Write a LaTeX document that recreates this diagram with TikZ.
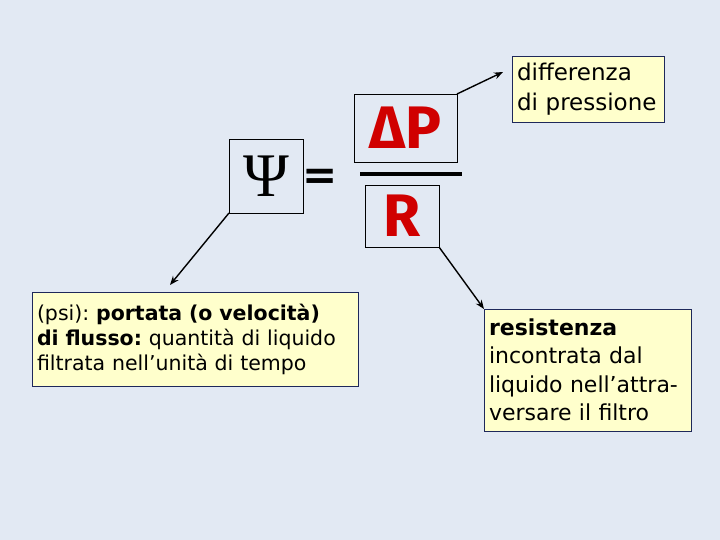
\documentclass[tikz,border=0pt]{standalone}
\usepackage{fontspec}
\setmainfont{DejaVu Sans}
\newfontfamily\eqfont{Fira Sans}
\newfontfamily\psifont{Liberation Serif}
\usetikzlibrary{arrows.meta}
\frenchspacing
\definecolor{bg}{RGB}{226,233,243}
\definecolor{note}{RGB}{255,255,204}
\definecolor{navy}{RGB}{30,40,90}
\definecolor{eqred}{RGB}{208,0,0}
\tikzset{
  notebox/.style={draw=navy, line width=0.9pt, fill=note, inner xsep=5pt, inner ysep=3pt, outer sep=0pt, align=left, anchor=north west},
  eqbox/.style={draw=black, line width=0.8pt, inner sep=0pt, outer sep=0pt},
  conn/.style={line width=1.4pt, -{Stealth[length=9pt,width=7pt]}},
}
\begin{document}
\begin{tikzpicture}[x=1pt,y=-1pt]
\fill[bg] (0,0) rectangle (720,540);
\useasboundingbox (0,0) rectangle (720,540);

% equation
\node[eqbox, minimum width=74pt, minimum height=74pt] (psi) at (266,176) {\fontsize{62}{62}\selectfont\psifont Ψ};
\node (eq) at (320.5,179) {\fontsize{42}{42}\selectfont\bfseries =};
\node[eqbox, minimum width=103pt, minimum height=68pt] (dp) at (405.5,128) {\fontsize{60}{60}\selectfont\eqfont\bfseries\color{eqred}ΔP};
\coordinate (fl) at (360,174);
\coordinate (fr) at (462,174);
\draw[line width=4pt] (fl) -- (fr);
\node[eqbox, minimum width=74pt, minimum height=62pt] (r) at (402,216) {\fontsize{60}{60}\selectfont\eqfont\bfseries\color{eqred}R};

% notes
\node[notebox, minimum width=326pt, minimum height=94pt, text width=316pt, font=\fontsize{20.5}{25}\selectfont] (flow) at (32,292)
  {\mbox{(psi): \textbf{portata (o velocità)}}\\
   \mbox{\textbf{di flusso:} quantità di liquido}\\
   \mbox{filtrata nell’unità di tempo}};
\node[notebox, minimum width=152pt, minimum height=66pt, text width=142pt, inner ysep=4pt, font=\fontsize{23}{30}\selectfont] (diff) at (512,56)
  {\mbox{differenza}\\ \mbox{di pressione}};
\node[notebox, minimum width=207pt, minimum height=122pt, text width=197pt, inner ysep=9pt, font=\fontsize{22}{28.5}\selectfont] (res) at (484,309)
  {\mbox{\textbf{resistenza}}\\ \mbox{incontrata dal}\\ \mbox{liquido nell’attra-}\\ \mbox{versare il filtro}};

% connectors
\coordinate (flowtip) at (170,285);
\coordinate (difftip) at (503,72);
\draw[conn] (psi.south west) -- (flowtip);
\draw[conn] (dp.north east) -- (difftip);
\draw[conn] (r.south east) -- (res.north west);
\end{tikzpicture}
\end{document}
